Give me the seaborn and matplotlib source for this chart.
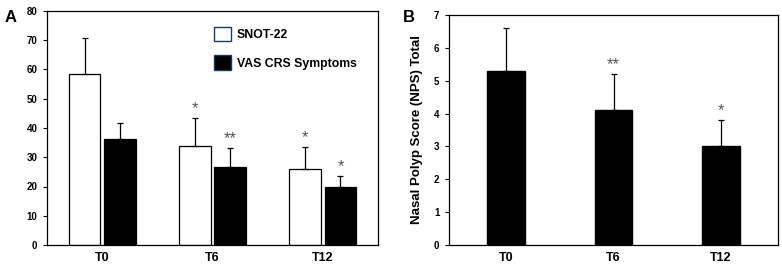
import pandas as pd
import seaborn as sns
import matplotlib.pyplot as plt
from matplotlib.patches import Patch

# data
timepoints = ['T0', 'T6', 'T12']
snot22_mean = [58.3, 34.0, 26.0]
snot22_err = [12.4, 9.3, 7.5]
vas_mean = [36.2, 26.8, 19.8]
vas_err = [5.6, 6.2, 3.7]
nps_mean = [5.3, 4.1, 3.0]
nps_err = [1.3, 1.1, 0.8]

# significance marks (series, timepoint index, label)
marks_a = [('SNOT-22', 1, '*'), ('VAS CRS Symptoms', 1, '**'),
           ('SNOT-22', 2, '*'), ('VAS CRS Symptoms', 2, '*')]
marks_b = [(1, '**'), (2, '*')]

series_names = ['SNOT-22', 'VAS CRS Symptoms']

df_a = pd.DataFrame({
    'time': timepoints * 2,
    'score': snot22_mean + vas_mean,
    'err': snot22_err + vas_err,
    'series': [series_names[0]] * 3 + [series_names[1]] * 3,
})
df_b = pd.DataFrame({'time': timepoints, 'score': nps_mean, 'err': nps_err})

sns.set_style("ticks")
plt.rcParams['font.family'] = ['Liberation Sans', 'DejaVu Sans']
plt.rcParams['font.weight'] = 'bold'
for key in ['text.color', 'axes.labelcolor', 'xtick.color', 'ytick.color']:
    plt.rcParams[key] = 'black'

fig = plt.figure(figsize=(7.82, 2.7), dpi=100)
ax_a = fig.add_axes([47 / 782, 25 / 270, 331 / 782, 234 / 270])
ax_b = fig.add_axes([449 / 782, 25 / 270, 329 / 782, 230 / 270])

# ---- panel A ----
sns.barplot(data=df_a, x='time', y='score', hue='series', ax=ax_a,
            palette=['white', 'black'], edgecolor='black', linewidth=0.9,
            width=0.64, gap=0.1, errorbar=None, legend=False)

bars = [p for p in ax_a.patches if p.get_height() > 0]
bars = sorted(bars, key=lambda p: p.get_x())
err_lookup = {}
for i, p in enumerate(bars):
    t = i // 2
    s = i % 2
    err = df_a[(df_a['time'] == timepoints[t]) & (df_a['series'] == series_names[s])]['err'].iloc[0]
    xc = p.get_x() + p.get_width() / 2
    ax_a.errorbar(xc, p.get_height(), yerr=[[0], [err]], fmt='none',
                  ecolor='black', elinewidth=0.9, capsize=2.5, capthick=0.9, zorder=1)
    err_lookup[(series_names[s], t)] = (xc, p.get_height() + err)

for s, t, lab in marks_a:
    xc, top = err_lookup[(s, t)]
    ax_a.text(xc, top + 3.2, lab, ha='center', va='center', fontsize=12,
              color='#555555', fontweight='normal')

ax_a.set_ylim(0, 80)
ax_a.set_xlim(-0.5, 2.5)
ax_a.set_yticks(range(0, 81, 10))
ax_a.set_xlabel('')
ax_a.set_ylabel('')

handles = [Patch(facecolor='white', edgecolor='#1f3a5f', linewidth=1.0),
           Patch(facecolor='black', edgecolor='#1f3a5f', linewidth=1.0)]
ax_a.legend(handles, series_names, loc='upper left', bbox_to_anchor=(0.47, 0.98),
            frameon=False, fontsize=8.8, handlelength=1.4, handleheight=1.4,
            labelspacing=1.2, handletextpad=0.5)

# ---- panel B ----
sns.barplot(data=df_b, x='time', y='score', ax=ax_b, color='black',
            edgecolor='black', width=0.35, errorbar=None)
for i, p in enumerate(ax_b.patches):
    xc = p.get_x() + p.get_width() / 2
    ax_b.errorbar(xc, p.get_height(), yerr=[[0], [nps_err[i]]], fmt='none',
                  ecolor='black', elinewidth=0.9, capsize=2.5, capthick=0.9, zorder=1)
for t, lab in marks_b:
    top = nps_mean[t] + nps_err[t]
    ax_b.text(t, top + 0.28, lab, ha='center', va='center', fontsize=12,
              color='#555555', fontweight='normal')

ax_b.set_ylim(0, 7)
ax_b.set_xlim(-0.53, 2.53)
ax_b.set_xlabel('')
ax_b.set_ylabel('Nasal Polyp Score (NPS) Total', fontsize=9.5, fontweight='bold', labelpad=8)

for ax in (ax_a, ax_b):
    for sp in ax.spines.values():
        sp.set_visible(True)
        sp.set_linewidth(0.9)
        sp.set_color('black')
    ax.tick_params(axis='y', labelsize=7, length=3, width=0.8, pad=4)
    ax.tick_params(axis='x', labelsize=9, length=0, pad=5)

fig.text(5 / 782, 1 - 17 / 270, 'A', fontsize=12, fontweight='bold', va='center')
fig.text(403 / 782, 1 - 17 / 270, 'B', fontsize=12, fontweight='bold', va='center')

fig.savefig('out.png', dpi=100)
